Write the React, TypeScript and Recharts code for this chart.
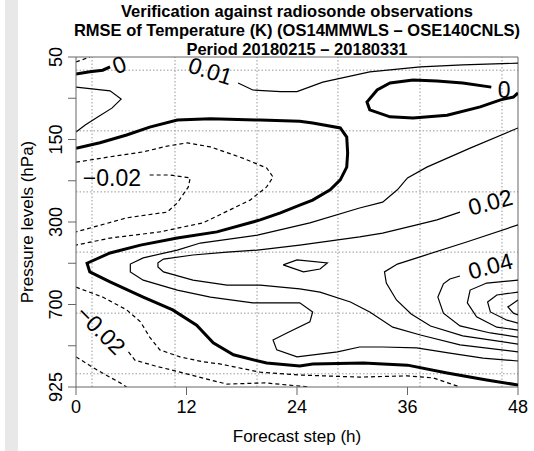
import { LineChart, Line, XAxis, YAxis, ReferenceLine, ReferenceDot } from "recharts";

const hourTicks = [0, 12, 24, 36, 48];
const levelTicks = [0, 1, 2, 3, 4, 5, 6, 7, 8];
const levelLabels = ["50", "100", "150", "200", "300", "500", "700", "850", "925"];

// dotted grid, in axis units
const gridHours = [1.74, 10.75, 19.66, 28.45, 37.36, 46.26];
const gridLevels = [0.32, 1.79, 3.27, 4.73, 6.21, 7.68];

// contour lines as [forecast step (h), level index]
const zeroTopLeft = [[0, 0.41], [1.5, 0.36], [2.9, 0.32], [3.7, 0.24]];
const zeroTopRight = [
  [45.1, 0.73], [42.0, 0.63], [39.2, 0.58], [36.6, 0.56], [34.1, 0.63], [32.7, 0.8],
  [31.6, 1.09], [31.9, 1.28], [34.1, 1.45], [36.6, 1.48], [40.3, 1.41], [43.9, 1.21],
  [46.1, 1.04], [47.5, 0.97], [48, 0.87],
];
const zeroMain = [
  [0, 2.21], [2.6, 2.08], [5.5, 1.89], [8.0, 1.7], [11.0, 1.53], [14.6, 1.5], [20.0, 1.53],
  [24.3, 1.56], [25.7, 1.6], [28.7, 1.72], [29.4, 1.94], [29.5, 2.33], [29.4, 2.67],
  [28.7, 2.98], [27.6, 3.22], [25.7, 3.47], [24.3, 3.59], [22.2, 3.78], [20.0, 3.95],
  [15.3, 4.24], [11.0, 4.39], [7.0, 4.56], [3.7, 4.75], [1.2, 5.0], [1.5, 5.21],
  [3.7, 5.45], [7.3, 5.82], [10.5, 6.13], [13.1, 6.5], [14.9, 6.93], [17.1, 7.22],
  [20.7, 7.42], [24.3, 7.49], [25.7, 7.44], [31.2, 7.42], [36.0, 7.47], [40.3, 7.66],
  [44.6, 7.83], [48, 7.95],
];
const posLoopTopLeft = [
  [0, 0.73], [3.7, 0.82], [4.9, 1.02], [3.9, 1.24], [2.4, 1.45], [1.0, 1.65], [0, 1.82],
];
const posTop = [
  [17.6, 0.63], [19.2, 0.8], [22.2, 0.84], [24.0, 0.84], [26.8, 0.61], [31.9, 0.36],
  [37.4, 0.24], [42.0, 0.19], [48, 0.15],
];
const posOuter = [
  [48, 1.72], [42.8, 2.21], [38.1, 2.67], [36.0, 2.93], [34.9, 3.22], [33.3, 3.52],
  [30.8, 3.66], [25.4, 4.02], [19.7, 4.32], [13.5, 4.51], [11.0, 4.68], [7.3, 4.87],
  [5.9, 5.02], [5.9, 5.21], [7.3, 5.41], [11.0, 5.65], [14.6, 5.82], [19.2, 5.96],
  [24.3, 5.96], [25.7, 6.18], [25.4, 6.42], [22.9, 6.69], [21.4, 6.86], [21.8, 7.1],
  [24.0, 7.27], [28.4, 7.15], [30.8, 7.03], [33.3, 7.03], [37.0, 7.05], [40.6, 7.18],
  [44.2, 7.3], [48, 7.37],
];
const posSecond = [
  [41.7, 3.76], [39.2, 3.95], [37.0, 4.07], [33.3, 4.27], [30.8, 4.36], [24.3, 4.56],
  [19.7, 4.68], [16.4, 4.73], [12.7, 4.8], [9.5, 4.9], [8.9, 4.99], [8.9, 5.09],
  [9.5, 5.21], [12.7, 5.41], [16.4, 5.53], [20.0, 5.53], [24.3, 5.62], [26.5, 5.7],
  [29.8, 5.94], [31.9, 6.18], [34.4, 6.55], [37.4, 6.74], [41.7, 6.98], [48, 7.15],
];
const posSmallLoop = [[22.5, 5.04], [24.0, 4.92], [27.3, 4.99], [26.5, 5.14], [24.7, 5.21], [22.5, 5.04]];
const posThird = [
  [48, 4.07], [42.5, 4.48], [37.7, 4.82], [34.9, 5.02], [33.5, 5.21], [33.7, 5.48],
  [34.8, 5.89], [36.4, 6.23], [38.5, 6.52], [42.0, 6.76], [48, 6.96],
];
const posFourth = [
  [41.7, 5.31], [40.6, 5.38], [39.9, 5.5], [39.3, 5.82], [39.9, 6.21], [41.7, 6.52],
  [45.0, 6.69], [48, 6.79],
];
const posFifth = [[48, 5.41], [44.6, 5.48], [42.8, 5.65], [42.5, 5.96], [43.5, 6.3], [45.7, 6.55], [48, 6.62]];
const posSixth = [[48, 5.7], [45.7, 5.77], [44.7, 5.94], [45.0, 6.18], [46.8, 6.38], [48, 6.45]];
const posSeventh = [[48, 5.89], [46.9, 6.06], [47.5, 6.21], [48, 6.25]];
const negTopCorner = [[0, 0.12], [1.5, 0]];
const negUpperOuter = [
  [0, 2.55], [3.7, 2.42], [7.3, 2.3], [9.9, 2.16], [12.1, 2.08], [14.6, 2.18], [18.1, 2.45],
  [20.7, 2.69], [21.4, 2.91], [20.7, 3.15], [18.9, 3.47], [13.8, 4.02], [9.1, 4.24],
  [3.7, 4.39], [0, 4.56],
];
const negUpperInner = [
  [8.0, 2.86], [10.2, 2.86], [12.4, 2.93], [12.2, 3.15], [11.0, 3.54], [9.9, 3.76],
  [5.5, 3.9], [0, 4.24],
];
const negLowerA = [
  [0, 5.58], [2.9, 5.82], [5.5, 6.13], [7.0, 6.42], [8.0, 6.79], [9.1, 7.1], [11.3, 7.27],
  [13.8, 7.39], [15.6, 7.44], [20.0, 7.64], [24.3, 7.71], [30.8, 7.76], [36.0, 7.73],
  [38.8, 7.78], [41.7, 8.0],
];
const negLowerB = [
  [5.7, 7.15], [6.4, 7.35], [8.6, 7.49], [11.3, 7.64], [14.6, 7.83], [16.4, 7.93],
  [20.5, 7.9], [25.4, 8.0],
];
const negCorner = [[0, 7.27], [2.3, 7.59], [4.8, 7.9], [5.5, 8.0]];

const contourLabels = [
  { text: "0", h: 4.7, p: 0.19, angle: -20 },
  { text: "0.01", h: 14.6, p: 0.34, angle: 18 },
  { text: "0", h: 46.5, p: 0.81, angle: 0 },
  { text: "\u22120.02", h: 3.9, p: 2.93, angle: 0 },
  { text: "0.02", h: 45.0, p: 3.52, angle: -15 },
  { text: "0.04", h: 45.0, p: 5.07, angle: -15 },
  { text: "\u22120.02", h: 2.7, p: 6.62, angle: 45 },
];

const thick = [zeroTopLeft, zeroTopRight, zeroMain];
const thin = [posLoopTopLeft, posTop, posOuter, posSecond, posSmallLoop, posThird, posFourth, posFifth, posSixth, posSeventh];
const dashed = [negTopCorner, negUpperOuter, negUpperInner, negLowerA, negLowerB, negCorner];

const toRows = (pts: number[][]) => pts.map(([h, p]) => ({ h, p }));

const FONT = "'Liberation Sans', Arial, Helvetica, sans-serif";

const YTick = ({ x, y, payload }: any) => {
  const t = payload.value % 2 === 0 ? levelLabels[payload.value] : "";
  return (
    <text
      transform={`translate(${x},${y}) rotate(-90)`}
      textAnchor="middle"
      fontSize={18}
      fontFamily={FONT}
      fill="#000"
    >
      {t}
    </text>
  );
};

const labelShape = (text: string, angle: number) => (props: any) => (
  <text
    x={props.cx}
    y={props.cy}
    transform={`rotate(${angle} ${props.cx} ${props.cy})`}
    textAnchor="middle"
    dominantBaseline="central"
    fontSize={23}
    fontFamily={FONT}
    fill="#000"
  >
    {text}
  </text>
);

export default function App() {
  return (
    <div style={{ position: "absolute", left: 0, top: 0, width: 534, height: 451, background: "#fff" }}>
      <div style={{ position: "absolute", left: 5, top: 0, width: 13, height: 451, background: "#e8e8e8" }} />
      <LineChart width={534} height={451} margin={{ top: 57, right: 16, left: 0, bottom: 0 }}>
        {gridHours.map((h) => (
          <ReferenceLine key={"gh" + h} x={h} stroke="#999" strokeWidth={1} strokeDasharray="1.5 2" />
        ))}
        {gridLevels.map((p) => (
          <ReferenceLine key={"gp" + p} y={p} stroke="#999" strokeWidth={1} strokeDasharray="1.5 2" />
        ))}
        <XAxis
          type="number"
          dataKey="h"
          domain={[0, 48]}
          ticks={hourTicks}
          height={64}
          allowDataOverflow
          stroke="#666"
          tickSize={8}
          tickMargin={5}
          tick={{ fill: "#000", fontSize: 18, fontFamily: FONT }}
        />
        <YAxis
          type="number"
          dataKey="p"
          domain={[0, 8]}
          ticks={levelTicks}
          reversed
          width={76}
          allowDataOverflow
          stroke="#666"
          tickSize={8}
          tickMargin={6}
          tick={<YTick />}
        />
        <ReferenceLine y={0} stroke="#666" />
        <ReferenceLine x={48} stroke="#666" />
        {thin.map((c, i) => (
          <Line key={"t" + i} data={toRows(c)} dataKey="p" type="linear" stroke="#000" strokeWidth={1.2}
            dot={false} isAnimationActive={false} legendType="none" />
        ))}
        {dashed.map((c, i) => (
          <Line key={"d" + i} data={toRows(c)} dataKey="p" type="linear" stroke="#000" strokeWidth={1.2}
            strokeDasharray="4 3" dot={false} isAnimationActive={false} legendType="none" />
        ))}
        {thick.map((c, i) => (
          <Line key={"k" + i} data={toRows(c)} dataKey="p" type="linear" stroke="#000" strokeWidth={3}
            dot={false} isAnimationActive={false} legendType="none" />
        ))}
        {contourLabels.map((l, i) => (
          <ReferenceDot key={"l" + i} x={l.h} y={l.p} r={0} shape={labelShape(l.text, l.angle)} />
        ))}
      </LineChart>
      <svg width={534} height={451} style={{ position: "absolute", left: 0, top: 0, pointerEvents: "none" }}>
        <g fontFamily={FONT} fontWeight="bold" fontSize={16.5} textAnchor="middle" fill="#000">
          <text x={297} y={16.5}>Verification against radiosonde observations</text>
          <text x={297} y={36}>RMSE of Temperature (K) (OS14MMWLS – OSE140CNLS)</text>
          <text x={297} y={55}>Period 20180215 – 20180331</text>
        </g>
        <text x={297} y={442} fontFamily={FONT} fontSize={17} textAnchor="middle" fill="#000">
          Forecast step (h)
        </text>
        <text transform="translate(33,222) rotate(-90)" fontFamily={FONT} fontSize={17} textAnchor="middle" fill="#000">
          Pressure levels (hPa)
        </text>
      </svg>
    </div>
  );
}
